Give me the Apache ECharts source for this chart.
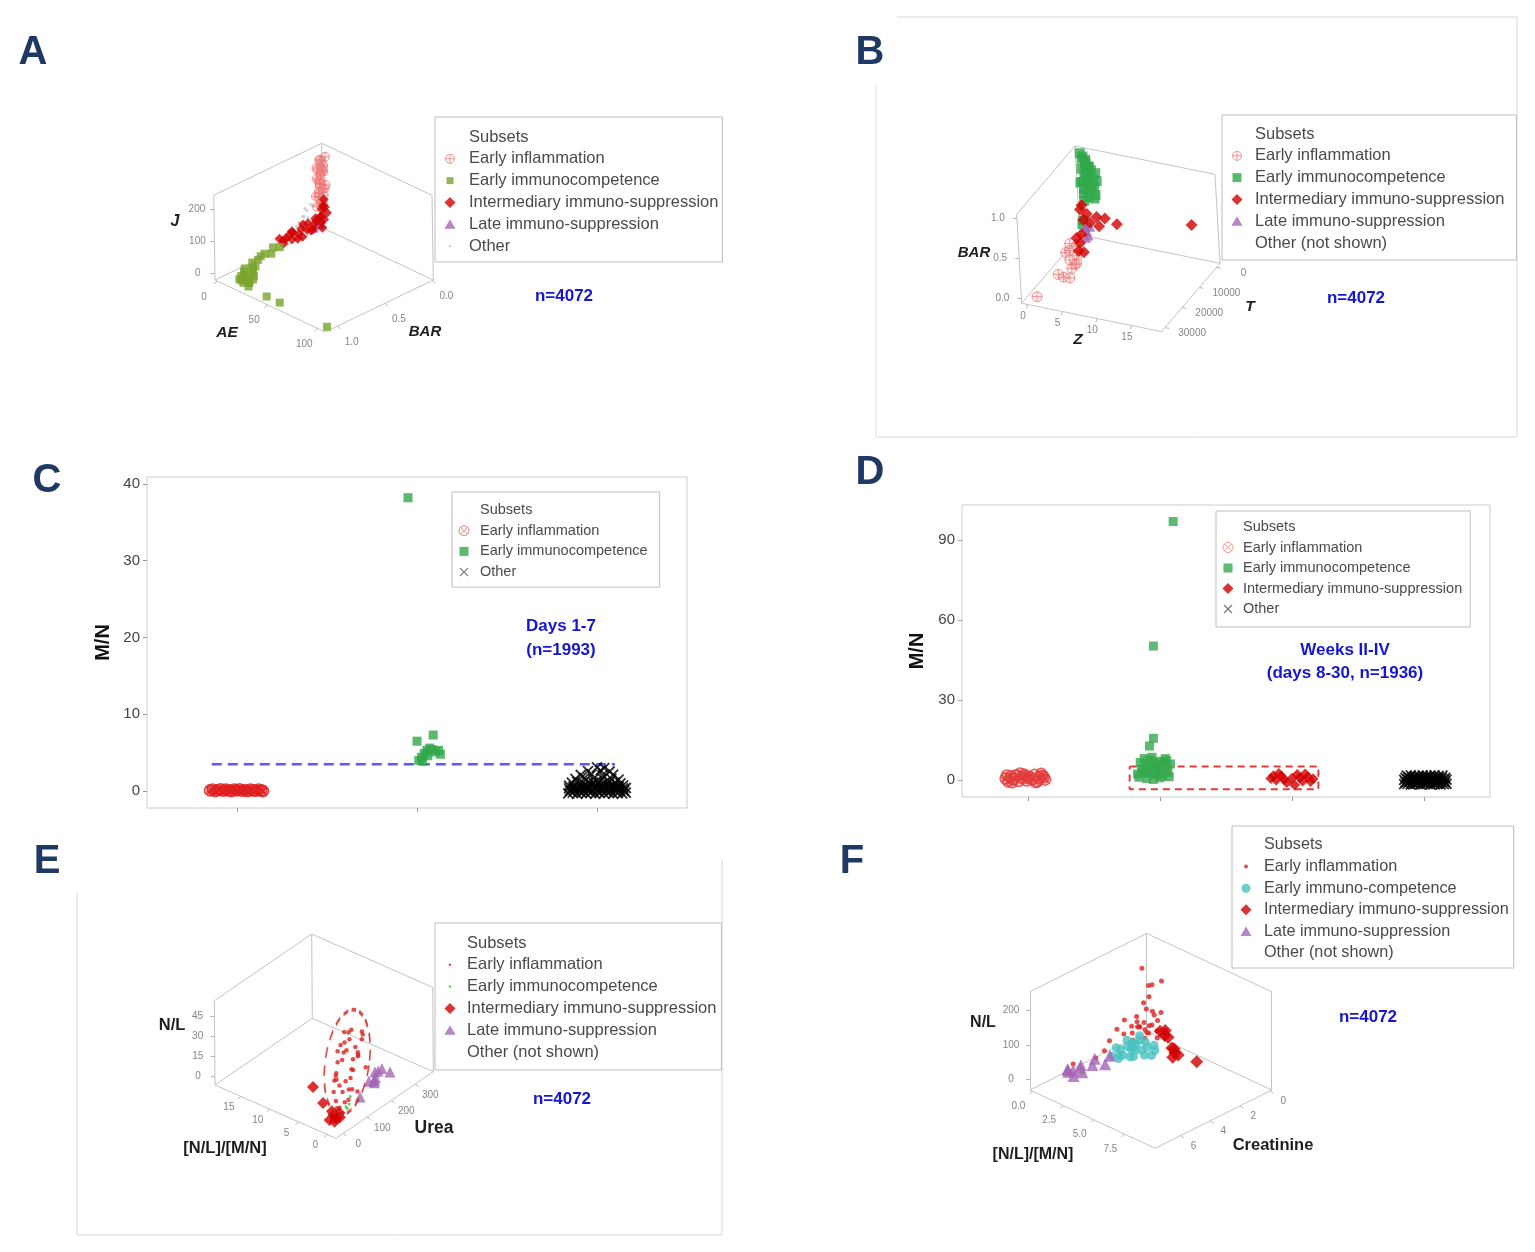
<!DOCTYPE html>
<html><head><meta charset="utf-8">
<script src="https://cdn.jsdelivr.net/npm/echarts/dist/echarts.min.js"></script>
<style>html,body{margin:0;padding:0;background:#fff}#c{width:1535px;height:1252px}</style>
</head><body><div id="c"></div>
<script>
// ===================== DATA =====================
// Panel A : [AE, BAR, J]
const A_INFLAM = [[3,0.06,210],[2,0.04,200],[4,0.07,195],[3,0.03,188],[2,0.08,180],[5,0.05,175],[3,0.06,168],[1,0.04,160],[4,0.09,152],[2,0.05,145],[3,0.07,138],[5,0.03,130],[2,0.06,124],[4,0.05,118],[3,0.08,110],[1,0.06,104],[4,0.04,98],[2,0.07,92],[3,0.05,86],[5,0.08,80],[3,0.04,72],[2,0.09,66],[4,0.06,60],[1,0.05,205],[5,0.06,185],[2,0.03,170],[4,0.08,140],[3,0.1,190],[1,0.08,150],[5,0.04,120],[2,0.1,100],[4,0.02,215]];
const A_IMMUNO = [[8,0.55,15],[6,0.6,18],[9,0.65,10],[7,0.7,14],[5,0.72,6],[8,0.78,8],[6,0.82,2],[12,0.95,-10],[20,1.0,-15],[6,0.9,-5],[10,1.0,-18],[15,0.97,-12],[8,0.93,-8],[18,0.98,-16],[14,0.9,-6],[10,0.86,-2],[16,1.02,-18],[22,1.03,-19],[12,0.88,-4],[9,0.97,-14],[17,0.92,-10],[13,1.01,-16],[11,0.84,0],[19,0.95,-13],[42,1.05,-18],[55,1.05,-18],[104,1.07,-18]];
const A_INTER = [[4,0.04,85],[5,0.06,70],[3,0.05,55],[6,0.03,45],[4,0.07,35],[5,0.05,25],[3,0.06,15],[6,0.08,5],[4,0.03,60],[5,0.09,40],[4,0.12,30],[5,0.16,25],[3,0.2,32],[6,0.24,22],[4,0.28,28],[5,0.32,18],[3,0.36,24],[6,0.4,15],[4,0.44,20],[5,0.48,12],[3,0.5,26],[7,0.3,10],[6,0.18,14],[4,0.38,34],[5,0.42,30],[3,0.46,16],[8,0.22,20],[6,0.34,8],[4,0.26,38],[5,0.14,42]];
const A_LATE = [[4,0.1,15],[3,0.08,10],[5,0.12,20],[2,0.06,5],[6,0.1,25],[4,0.14,8],[3,0.11,18],[5,0.07,12]];
const A_OTHER = [[3,0.25,60],[2,0.2,70],[4,0.3,50],[3,0.15,80],[5,0.22,55],[2,0.28,45],[4,0.18,90],[3,0.32,40],[5,0.26,65],[2,0.12,75],[4,0.24,85],[3,0.35,35],[6,0.2,48]];
const A_TICKS_AE = [0,50,100], A_TICKS_BAR = [0,0.5,1.0], A_TICKS_J = [0,100,200];

// Panel B : [Z, T, BAR]
const B_INFLAM = [[2.8,18200,0.2],[2.2,16000,0.25],[3.5,20000,0.15],[2.0,22000,0.1],[3.0,15000,0.3],[4.0,19000,0.2],[2.5,21000,0.05],[3.2,17000,0.12],[1.8,14000,0.28],[3.8,22500,0.1],[0.84,29900,0.0],[2.6,19500,0.32],[3.4,16500,0.22]];
const B_IMMUNO = [[0,-1000,1.0],[0.5,-500,0.98],[1.0,0,0.96],[0.2,-1200,0.93],[1.5,500,0.9],[0.8,-800,0.88],[1.8,200,0.85],[0.3,-300,0.83],[2.2,-600,0.8],[1.2,800,0.78],[0.5,-1000,0.75],[2.5,0,0.72],[1.0,-400,0.7],[1.6,600,0.68],[0.2,-800,0.65],[2.0,-200,0.62],[0.7,400,0.6],[1.4,-1200,0.58],[2.3,300,0.55],[0.4,-600,0.52],[1.1,0,0.5],[1.8,-900,0.47],[0.6,200,0.45],[0.9,-300,0.92],[1.3,-700,0.86],[2.0,100,0.74],[0.1,-100,0.66],[0.4,1200,0.18],[0.5,1000,0.22]];
const B_INTER = [[-0.17,0,0.32],[0.78,0,0.28],[0.23,0,0.2],[2.2,0,0.27],[3.4,0,0.27],[2.5,0,0.16],[5.1,0,0.23],[16.0,0,0.41],[0.1,0,0.38],[1.2,0,0.18],[2.27,10100,0.2],[2.0,8000,0.25],[2.5,12000,0.15],[1.5,9000,0.22],[3.0,11000,0.12]];
const B_LATE = [[1.5,3000,0.15],[1.2,2500,0.2],[1.8,3500,0.12],[1.0,2000,0.18],[2.0,3000,0.22],[1.6,4000,0.1]];
const B_TICKS_Z = [0,5,10,15], B_TICKS_T = [0,10000,20000,30000], B_TICKS_BAR = [0,0.5,1.0];

// Panel C : [x position (category index + jitter), M/N]
const C_INFLAM = [[-0.15,0.1],[-0.135,0.2],[-0.12,0.0],[-0.105,0.15],[-0.09,0.25],[-0.075,0.05],[-0.06,0.2],[-0.045,0.1],[-0.03,0.0],[-0.015,0.2],[0,0.1],[0.015,0.25],[0.03,0.05],[0.045,0.15],[0.06,0.0],[0.075,0.2],[0.09,0.1],[0.105,0.05],[0.12,0.2],[0.135,0.1],[0.145,0.0]];
const C_IMMUNO = [[0.95,38.2],[1.0,6.5],[1.09,7.3],[1.01,4.0],[1.025,4.4],[1.04,4.9],[1.055,5.3],[1.07,5.6],[1.085,5.4],[1.1,5.1],[1.12,5.3],[1.03,3.9],[1.06,4.6],[1.13,4.8]];
const C_OTHER = [[1.84,-0.3],[1.865,-0.2],[1.89,-0.35],[1.915,-0.25],[1.94,-0.3],[1.965,-0.2],[1.99,-0.35],[2.015,-0.25],[2.04,-0.3],[2.065,-0.2],[2.09,-0.35],[2.115,-0.25],[2.14,-0.3],[2.16,-0.2],
 [1.85,0.05],[1.875,0.1],[1.90,0.0],[1.925,0.05],[1.95,0.1],[1.975,0.0],[2.0,0.05],[2.025,0.1],[2.05,0.0],[2.075,0.05],[2.10,0.1],[2.125,0.0],[2.15,0.05],
 [1.845,0.35],[1.87,0.4],[1.895,0.3],[1.92,0.35],[1.945,0.4],[1.97,0.3],[1.995,0.35],[2.02,0.4],[2.045,0.3],[2.07,0.35],[2.095,0.4],[2.12,0.3],[2.145,0.35],[2.16,0.4],
 [1.845,0.7],[1.87,0.6],[1.895,0.75],[1.92,0.65],[1.945,0.7],[1.97,0.8],[1.995,0.6],[2.02,0.7],[2.045,0.75],[2.07,0.65],[2.095,0.7],[2.12,0.6],[2.145,0.75],
 [1.86,1.1],[1.89,1.2],[1.92,1.05],[1.95,1.15],[1.98,1.1],[2.01,1.2],[2.04,1.05],[2.07,1.15],[2.10,1.1],[2.13,1.0],
 [1.88,1.6],[1.93,1.7],[1.98,1.55],[2.03,1.65],[2.08,1.6],[2.12,1.5],
 [1.91,2.1],[1.97,2.2],[2.03,2.05],[2.09,2.15],
 [1.95,2.6],[2.02,2.7],[2.07,2.55],
 [2.0,3.1],[2.04,3.0]];
const C_CUTOFF = [[-0.14,3.5],[2.1,3.5]];
const C_XTICKS = [0,1,2], C_YTICKS = [0,10,20,30,40];

// Panel D : [x position (category index + jitter), M/N]
const D_INFLAM = [[-0.17,0.5],[-0.15,-0.6],[-0.13,1.4],[-0.11,0.2],[-0.09,1.8],[-0.07,-0.4],[-0.05,0.9],[-0.03,2.0],[-0.01,-0.2],[0.01,1.2],[0.03,0.3],[0.05,1.9],[0.07,-0.5],[0.09,0.8],[0.11,1.6],[0.13,0.1],[-0.16,1.7],[-0.12,-0.9],[-0.06,2.4],[0.0,0.6],[0.06,-0.9],[0.1,2.3],[0.12,1.0],[-0.02,1.5]];
const D_IMMUNO = [[0.84,1],[0.87,3],[0.90,0.5],[0.93,5],[0.96,2],[0.99,7],[1.02,1.5],[1.05,4],[1.08,6],[0.85,6.5],[0.88,8],[0.91,2.5],[0.94,8.5],[0.97,4.5],[1.0,0.8],[1.03,6.8],[1.06,2.8],[0.86,4],[0.89,5.8],[0.92,7.5],[0.95,0.2],[0.98,3.3],[1.01,5.2],[1.04,8],[1.07,1.2],[0.83,2.2],[0.9,3.8],[1.0,2.6],[0.96,6.2],[1.05,7.2],[0.92,12.7],[0.95,15.6],[0.95,50.2],[1.1,96.9]];
const D_INTER = [[1.84,0.5],[1.88,0.0],[1.92,1.5],[1.96,-1.0],[2.0,0.6],[2.04,2.0],[2.08,-0.4],[2.12,1.2],[2.16,0.4],[1.9,2.4],[2.02,-1.9],[2.06,0.8],[1.94,0.2],[2.1,2.2],[1.86,1.6],[2.14,-0.6]];
const D_OTHER = [[2.85,-1.6],[2.875,-1.5],[2.90,-1.7],[2.925,-1.6],[2.95,-1.5],[2.975,-1.7],[3.0,-1.6],[3.025,-1.5],[3.05,-1.7],[3.075,-1.6],[3.10,-1.5],[3.125,-1.7],[3.15,-1.6],[3.17,-1.5],
 [2.86,-0.8],[2.885,-0.7],[2.91,-0.9],[2.935,-0.8],[2.96,-0.7],[2.985,-0.9],[3.01,-0.8],[3.035,-0.7],[3.06,-0.9],[3.085,-0.8],[3.11,-0.7],[3.135,-0.9],[3.16,-0.8],
 [2.85,0.0],[2.875,0.1],[2.90,-0.1],[2.925,0.0],[2.95,0.1],[2.975,-0.1],[3.0,0.0],[3.025,0.1],[3.05,-0.1],[3.075,0.0],[3.10,0.1],[3.125,-0.1],[3.15,0.0],[3.17,0.1],
 [2.86,0.8],[2.885,0.9],[2.91,0.7],[2.935,0.8],[2.96,0.9],[2.985,0.7],[3.01,0.8],[3.035,0.9],[3.06,0.7],[3.085,0.8],[3.11,0.9],[3.135,0.7],[3.16,0.8],
 [2.87,1.6],[2.90,1.7],[2.93,1.5],[2.96,1.6],[2.99,1.7],[3.02,1.5],[3.05,1.6],[3.08,1.7],[3.11,1.5],[3.14,1.6]];
const D_BOX = [[0.77,5.0],[2.2,5.0],[2.2,-3.5],[0.77,-3.5],[0.77,5.0]];
const D_XTICKS = [0,1,2,3], D_YTICKS = [0,30,60,90];

// Panel E : [[N/L]/[M/N], Urea, N/L]
const E_INFLAM = [[0.3,10,2],[0.6,25,5],[0.8,40,3],[1.2,35,8],[0.5,55,6],[1.5,70,10],[2.0,45,12],[0.9,80,4],[1.8,90,15],[2.5,60,18],[1.1,100,9],[0.4,70,14],[3.0,80,20],[1.6,110,22],[2.2,120,13],[0.7,95,25],[2.8,100,28],[1.3,130,30],[3.5,90,16],[1.9,60,33],[2.6,140,24],[0.9,120,35],[3.2,120,38],[1.4,85,40],[2.1,150,27],[4.0,110,31],[1.7,160,42],[2.9,130,45],[1.0,140,48],[3.6,150,36],[2.4,100,50],[2.0,120,50],[3.0,160,30],[2.0,75,44],[0.8,150,20],[4.2,140,26],[2.7,180,34],[1.2,50,18],[3.8,100,11],[0.6,110,7]];
const E_IMMUNO = [[0.3,40,0],[0.5,60,2],[0.8,80,1],[0.2,100,3],[0.6,110,0],[0.4,30,4],[1.0,90,5],[0.7,70,-1]];
const E_INTER = [[7.4,88,0],[3.9,46,0],[0.2,5,-2],[0.5,15,-1],[1.0,20,0],[0.3,30,-2],[1.5,25,1],[0.8,40,-1],[0.1,12,0],[1.2,8,-3]];
const E_LATE = [[2.0,215,0],[1.5,200,2],[2.5,230,-1],[1.0,190,3],[3.0,240,1],[2.2,250,4],[1.8,225,6],[2.8,210,-2],[0.9,128,0],[1.2,260,2]];
const E_CLUSTER_CENTER = [1.5,90,30];
const E_TICKS_R = [0,5,10,15], E_TICKS_UREA = [0,100,200,300], E_TICKS_NL = [0,15,30,45];

// Panel F : [[N/L]/[M/N], Creatinine, N/L]
const F_INFLAM = [[0.5,0.8,184],[1.5,0.3,153],[0.8,0.6,135],[0.6,0.2,125],[0.4,0.6,79],[0.5,0.5,60],[1.0,0.5,62],[0.3,1.8,53],[0.3,2.3,37],[0.5,3.3,0],[1.0,5.8,24],[0.6,1.2,40],[0.8,0.9,35],[1.2,0.7,30],[0.4,1.4,28],[1.0,1.0,20],[1.4,1.2,22],[0.7,1.6,18],[1.8,0.8,25],[0.9,0.3,45],[1.3,0.4,38],[0.2,0.9,42],[1.6,1.5,15],[0.5,2.0,20],[2.0,1.0,12],[1.1,1.9,10],[0.3,2.8,15],[0.6,0.4,95],[1.7,0.5,70],[0.9,4.2,5],[2.2,0.6,30],[1.5,2.2,8],[0.4,1.0,18],[1.1,0.8,28],[0.7,1.1,25],[1.3,1.0,15],[0.9,1.3,32]];
const F_IMMUNO = [[1.5,2.0,8],[1.8,2.6,12],[2.2,2.2,6],[1.2,2.8,4],[2.5,3.0,10],[1.0,2.2,15],[2.0,1.8,18],[1.6,3.2,2],[2.8,2.5,8],[1.3,1.6,20],[2.4,2.0,14],[1.9,3.5,5],[1.1,3.0,12],[2.6,1.7,16],[1.7,2.4,22],[2.1,2.9,0],[1.4,2.5,10],[3.0,2.2,4],[2.3,2.7,18],[1.5,3.6,8],[2.9,1.9,10],[1.8,2.0,25],[1.2,2.0,6],[2.0,3.3,12],[1.68,2.36,10]];
const F_INTER = [[1.5,0.4,10],[2.0,0.5,8],[2.4,0.6,12],[3.2,1.0,3],[3.5,1.1,8],[3.8,1.3,5],[4.2,1.4,8],[4.0,1.6,2],[5.47,1.2,5],[1.8,0.3,15]];
const F_LATE = [[1.0,5.8,5],[1.2,5.5,10],[0.8,6.0,8],[1.5,5.6,4],[1.1,6.2,12],[0.9,5.2,6],[1.4,6.1,2],[1.6,5.0,14],[1.3,4.6,18],[1.8,4.0,22],[0.8,6.0,10],[1.9,4.4,8]];
const F_TICKS_R = [0,2.5,5,7.5], F_TICKS_CREAT = [0,2,4,6], F_TICKS_NL = [0,100,200];

// ===================== LAYOUT (oblique projection of each 3D box) =====================
// o: screen position of the corner where all three variables are at their minimum
// v: screen displacement from min to max of each variable; r: variable ranges
// k: which corner is the far (back) corner (0=min,1=max) for the two floor variables
const PA = {o:[323,228], v:[[110.3,52],[-108,52],[-1.3,-84.7]], r:[[-2,108],[-0.01,1.13],[-20,244]], k:[0,0]};
const PB = {o:[1080,235], v:[[140,28.3],[-58.3,68.3],[-5,-89]], r:[[-0.9,19.3],[-2000,32000],[-0.06,1.05]], k:[0,0]};
const PE = {o:[336,1138.4], v:[[-121,-53.4],[97.3,-66.7],[-0.6,-84.3]], r:[[-1.5,19.5],[-30,375],[-7,57]], k:[1,1]};
const PF = {o:[1146.7,1031.7], v:[[125,58.3],[-116.7,58.3],[0,-98.3]], r:[[-0.2,10],[-0.1,7.7],[-30,254]], k:[0,0]};

const FONT = '"Liberation Sans", Arial, Helvetica, sans-serif';
function proj(P, p){
  let x = P.o[0], y = P.o[1];
  for (let i = 0; i < 3; i++){
    const f = (p[i] - P.r[i][0]) / (P.r[i][1] - P.r[i][0]);
    x += f * P.v[i][0]; y += f * P.v[i][1];
  }
  return [x, y];
}
function boxEdges(P){
  const k = P.k;
  const c = (a,b,z) => proj(P, [P.r[0][a], P.r[1][b], P.r[2][z]]);
  const K=c(k[0],k[1],0), L=c(k[0],1-k[1],0), R=c(1-k[0],k[1],0), F=c(1-k[0],1-k[1],0);
  const Kt=c(k[0],k[1],1), Lt=c(k[0],1-k[1],1), Rt=c(1-k[0],k[1],1);
  return [[K,L],[K,R],[K,Kt],[L,Lt],[R,Rt],[Kt,Lt],[Kt,Rt],[L,F],[F,R]];
}
function tickPts(P, dim, vals){
  const k = P.k; let base;
  if (dim === 2) base = [P.r[0][k[0]], P.r[1][1-k[1]], 0];
  else if (dim === 0) base = [0, P.r[1][1-k[1]], P.r[2][0]];
  else base = [P.r[0][1-k[0]], 0, P.r[2][0]];
  return vals.map(v => { const p = base.slice(); p[dim] = v; return proj(P, p); });
}
const OV = {xAxisIndex:2, yAxisIndex:2, silent:true, animation:false};
function boxSeries(P){
  return Object.assign({type:'lines', coordinateSystem:'cartesian2d', polyline:false,
    data: boxEdges(P).map(c => ({coords:c})), lineStyle:{color:'#c4c4c4', width:1, opacity:1}, z:1}, OV);
}
function tickSeries(P, dim, vals, off, dec){
  const pts = tickPts(P, dim, vals);
  const len = Math.hypot(off[0], off[1]), ux = off[0]/len*4, uy = off[1]/len*4;
  return [
    Object.assign({type:'lines', coordinateSystem:'cartesian2d', polyline:false,
      data: pts.map(p => ({coords:[p, [p[0]+ux, p[1]+uy]]})), lineStyle:{color:'#b4b4b4', width:1, opacity:1}, z:1}, OV),
    Object.assign({type:'scatter', data: pts.map((p,i) => ({value:p, name: dec ? vals[i].toFixed(dec) : String(vals[i])})),
      symbolSize:1, itemStyle:{color:'rgba(0,0,0,0)'},
      label:{show:true, position:'inside', formatter:'{b}', offset:off, fontSize:10, color:'#666', fontFamily:FONT}, z:2}, OV)
  ];
}
function s3(P, name, arr, symbol, size, style, z){
  return Object.assign({type:'scatter', name, data: arr.map(p => proj(P, p)), symbol, symbolSize:size, itemStyle:style, z: z || 3}, OV);
}
function s2(gi, name, arr, symbol, size, style){
  return {type:'scatter', name, xAxisIndex:gi, yAxisIndex:gi, data:arr, symbol, symbolSize:size, itemStyle:style, silent:true, animation:false, z:3};
}

// symbols
const SYM_CROSSCIRC = 'path://M0,-10A10,10 0 1,1 0,10A10,10 0 1,1 0,-10ZM-10,0L10,0M0,-10L0,10';
const SYM_XCIRC = 'path://M0,-10A10,10 0 1,1 0,10A10,10 0 1,1 0,-10ZM-7,-7L7,7M-7,7L7,-7';
const SYM_X = 'path://M-10,-10L10,10M-10,10L10,-10';
const IC = p => 'path://M-6,-6M6,6' + p;
const L_CROSSCIRC = IC('M0,-4.5A4.5,4.5 0 1,1 0,4.5A4.5,4.5 0 1,1 0,-4.5ZM-4.5,0L4.5,0M0,-4.5L0,4.5');
const L_XCIRC = IC('M0,-5A5,5 0 1,1 0,5A5,5 0 1,1 0,-5ZM-3.5,-3.5L3.5,3.5M-3.5,3.5L3.5,-3.5');
const L_SQ7 = IC('M-3.5,-3.5L3.5,-3.5L3.5,3.5L-3.5,3.5Z');
const L_SQ9 = IC('M-4.5,-4.5L4.5,-4.5L4.5,4.5L-4.5,4.5Z');
const L_DIA = IC('M0,-5.5L5.5,0L0,5.5L-5.5,0Z');
const L_TRI = IC('M0,-5L5.5,4.5L-5.5,4.5Z');
const L_DOT = IC('M-1.3,0A1.3,1.3 0 1,1 1.3,0A1.3,1.3 0 1,1 -1.3,0Z');
const L_DOT2 = IC('M-2,0A2,2 0 1,1 2,0A2,2 0 1,1 -2,0Z');
const L_CIRC = IC('M-4.5,0A4.5,4.5 0 1,1 4.5,0A4.5,4.5 0 1,1 -4.5,0Z');
const L_X = IC('M-4,-4L4,4M-4,4L4,-4');

const COL = {pink:'#ee7a7a', olive:'#79a52b', green:'#2fa84a', red:'#d20000', purple:'#a565b5', grey:'#c4c4c4', dot:'#dd2020', dotG:'#3fbf3f', cyan:'#48c2c2'};
const stroke = (c,w) => ({color:'rgba(0,0,0,0)', borderColor:c, borderWidth:w||1});
const fill = c => ({color:c, borderWidth:0});

const NAMES = {sub:'Subsets', ei:'Early inflammation', ic:'Early immunocompetence', ic2:'Early immuno-competence', im:'Intermediary immuno-suppression', late:'Late immuno-suppression', oth:'Other', ons:'Other (not shown)'};

function legend(left, top, itemWidth, fontSize, lineH, gap, padding, items){
  return {left, top, orient:'vertical', itemWidth, itemHeight:12, itemGap:gap, padding,
    borderColor:'#bdbdbd', borderWidth:1, backgroundColor:'#fff', selectedMode:false, z:6,
    textStyle:{fontFamily:FONT, fontSize, lineHeight:lineH, color:'#4a4a4a'},
    data: items.map(it => ({name:it[0], icon:it[1], itemStyle:it[2]}))};
}

// ===================== SERIES =====================
const series = [];
// --- C ---
series.push({type:'line', xAxisIndex:0, yAxisIndex:0, data:C_CUTOFF, symbol:'none', lineStyle:{color:'#5b5bf0', width:2.5, type:[10,6]}, silent:true, animation:false, z:2});
series.push(s2(0, NAMES.ei, C_INFLAM, SYM_XCIRC, 11, {color:'rgba(230,40,40,0.3)', borderColor:'#dd1c1c', borderWidth:1.6}));
series.push(s2(0, NAMES.ic, C_IMMUNO, 'rect', 9, fill(COL.green)));
series.push(s2(0, NAMES.oth, C_OTHER, SYM_X, 10, stroke('#000',1.9)));
// --- D ---
series.push({type:'line', xAxisIndex:1, yAxisIndex:1, data:D_BOX, symbol:'none', lineStyle:{color:'#e03c3c', width:2, type:[7,5]}, silent:true, animation:false, z:2});
series.push(s2(1, NAMES.ei, D_INFLAM, SYM_XCIRC, 11, {color:'rgba(230,60,60,0.25)', borderColor:'#e23c3c', borderWidth:1.5}));
series.push(s2(1, NAMES.ic, D_IMMUNO, 'rect', 9, fill('#35a94c')));
series.push(s2(1, NAMES.im, D_INTER, 'diamond', 11, fill(COL.red)));
series.push(s2(1, NAMES.oth, D_OTHER, SYM_X, 10, stroke('#000',1.9)));
// --- A ---
series.push(boxSeries(PA));
series.push(...tickSeries(PA, 2, A_TICKS_J, [-17,0], 0));
series.push(...tickSeries(PA, 0, A_TICKS_AE, [-13,16], 0));
series.push(...tickSeries(PA, 1, A_TICKS_BAR, [14,16], 1));
series.push(s3(PA, NAMES.oth, A_OTHER, 'circle', 3, fill(COL.grey)));
series.push(s3(PA, NAMES.ei, A_INFLAM, SYM_CROSSCIRC, 9, {color:'rgba(240,120,120,0.15)', borderColor:COL.pink, borderWidth:1}));
series.push(s3(PA, NAMES.late, A_LATE, 'triangle', 8, fill(COL.purple)));
series.push(s3(PA, NAMES.im, A_INTER, 'diamond', 10, fill(COL.red)));
series.push(s3(PA, NAMES.ic, A_IMMUNO, 'rect', 8, fill(COL.olive)));
// --- B ---
series.push(boxSeries(PB));
series.push(...tickSeries(PB, 2, B_TICKS_BAR, [-19,0], 1));
series.push(...tickSeries(PB, 0, B_TICKS_Z, [-5,12], 0));
series.push(...tickSeries(PB, 1, B_TICKS_T, [27,6], 0));
series.push(s3(PB, NAMES.ei, B_INFLAM, SYM_CROSSCIRC, 10, {color:'rgba(240,120,120,0.15)', borderColor:COL.pink, borderWidth:1}));
series.push(s3(PB, NAMES.ic, B_IMMUNO, 'rect', 10, fill(COL.green)));
series.push(s3(PB, NAMES.late, B_LATE, 'triangle', 10, fill(COL.purple)));
series.push(s3(PB, NAMES.im, B_INTER, 'diamond', 12, fill(COL.red)));
// --- E ---
series.push(boxSeries(PE));
series.push(...tickSeries(PE, 2, E_TICKS_NL, [-17,0], 0));
series.push(...tickSeries(PE, 0, E_TICKS_R, [-12,11], 0));
series.push(...tickSeries(PE, 1, E_TICKS_UREA, [15,11], 0));
series.push(s3(PE, NAMES.ei, E_INFLAM, 'circle', 4.5, fill(COL.dot)));
series.push(s3(PE, NAMES.ic, E_IMMUNO, 'circle', 3, fill(COL.dotG)));
series.push(s3(PE, NAMES.im, E_INTER, 'diamond', 12, fill(COL.red)));
series.push(s3(PE, NAMES.late, E_LATE, 'triangle', 11, fill(COL.purple)));
series.push(Object.assign({type:'scatter', data:[proj(PE, E_CLUSTER_CENTER)], symbol:'circle', symbolSize:[44,106], symbolRotate:-8,
  itemStyle:{color:'rgba(0,0,0,0)', borderColor:'#d42020', borderWidth:2.5, borderType:[7,5]}, z:4}, OV));
// --- F ---
series.push(boxSeries(PF));
series.push(...tickSeries(PF, 2, F_TICKS_NL, [-19,0], 0));
series.push(...tickSeries(PF, 0, F_TICKS_R, [-14,15], 1));
series.push(...tickSeries(PF, 1, F_TICKS_CREAT, [13,11], 0));
series.push(s3(PF, NAMES.ei, F_INFLAM, 'circle', 5, fill(COL.dot)));
series.push(s3(PF, NAMES.im, F_INTER, 'diamond', 13, fill(COL.red)));
series.push(s3(PF, NAMES.ic2, F_IMMUNO, 'circle', 9, fill(COL.cyan)));
series.push(s3(PF, NAMES.late, F_LATE, 'triangle', 12, fill(COL.purple)));
// legend-only entries
series.push(Object.assign({type:'scatter', name:NAMES.sub, data:[]}, OV));
series.push(Object.assign({type:'scatter', name:NAMES.ons, data:[]}, OV));

// ===================== LEGENDS =====================
const legends = [
  legend(435, 117, 28, 16.5, 18, 3.8, [11,4,7,1], [
    [NAMES.sub,'none'], [NAMES.ei,L_CROSSCIRC,stroke(COL.pink,1)], [NAMES.ic,L_SQ7,fill(COL.olive)],
    [NAMES.im,L_DIA,fill(COL.red)], [NAMES.late,L_TRI,fill(COL.purple)], [NAMES.oth,L_DOT,fill(COL.grey)]]),
  legend(1222, 115, 26, 16.5, 18, 3.8, [10,12,8,2], [
    [NAMES.sub,'none'], [NAMES.ei,L_CROSSCIRC,stroke(COL.pink,1)], [NAMES.ic,L_SQ9,fill(COL.green)],
    [NAMES.im,L_DIA,fill(COL.red)], [NAMES.late,L_TRI,fill(COL.purple)], [NAMES.ons,'none']]),
  legend(452, 492, 22, 14.5, 17, 3.7, [9.5,12,6.5,1], [
    [NAMES.sub,'none'], [NAMES.ei,L_XCIRC,stroke('#e06060',1)], [NAMES.ic,L_SQ9,fill(COL.green)], [NAMES.oth,L_X,stroke('#555',1.2)]]),
  legend(1216, 511, 20, 14.5, 17, 3.5, [7.5,8,9.5,2], [
    [NAMES.sub,'none'], [NAMES.ei,L_XCIRC,stroke('#f08080',1)], [NAMES.ic,L_SQ9,fill('#35a94c')],
    [NAMES.im,L_DIA,fill(COL.red)], [NAMES.oth,L_X,stroke('#555',1.2)]]),
  legend(435, 923, 24, 16.5, 18, 3.8, [11,5,9,3], [
    [NAMES.sub,'none'], [NAMES.ei,L_DOT,fill(COL.dot)], [NAMES.ic,L_DOT,fill(COL.dotG)],
    [NAMES.im,L_DIA,fill(COL.red)], [NAMES.late,L_TRI,fill(COL.purple)], [NAMES.ons,'none']]),
  legend(1232, 826, 26, 16.2, 18, 3.6, [10,5,6,1], [
    [NAMES.sub,'none'], [NAMES.ei,L_DOT2,fill(COL.dot)], [NAMES.ic2,L_CIRC,fill(COL.cyan)],
    [NAMES.im,L_DIA,fill(COL.red)], [NAMES.late,L_TRI,fill(COL.purple)], [NAMES.ons,'none']])
];

// ===================== TEXT =====================
const LETTERS = [['A',33,53],['B',870,53],['C',47,481],['D',870,473],['E',47,862],['F',852,862]];
const BLUE = [['n=4072',564,296],['n=4072',1356,298],['n=4072',562,1099],['n=4072',1368,1017],['Days 1-7',561,626],['(n=1993)',561,650],['Weeks II-IV',1345,650],['(days 8-30, n=1936)',1345,673]];
const TITLES = [['J',175,222,'italic bold 16px'],['AE',227,333,'italic bold 15.5px'],['BAR',425,332,'italic bold 15px'],
  ['BAR',974,253,'italic bold 15px'],['Z',1078,340,'italic bold 15.5px'],['T',1250,307,'italic bold 15.5px'],
  ['N/L',172,1025,'bold 16.5px'],['[N/L]/[M/N]',225,1148,'bold 16.5px'],['Urea',434,1128,'bold 17.5px'],
  ['N/L',983,1023,'bold 16px'],['[N/L]/[M/N]',1033,1155,'bold 16px'],['Creatinine',1273,1145,'bold 16.5px']];
const txt = (t,x,y,font,color) => ({type:'text', x, y, silent:true, z:10,
  style:{text:t, font: font + ' ' + FONT, fill:color, align:'center', verticalAlign:'middle', textAlign:'center', textVerticalAlign:'middle'}});
const graphics = [];
graphics.push({type:'polyline', silent:true, z:0, shape:{points:[[897,17],[1517,17],[1517,437],[876,437],[876,85]]}, style:{stroke:'#d9d9d9', fill:null, lineWidth:1}});
graphics.push({type:'polyline', silent:true, z:0, shape:{points:[[77,893],[77,1235],[722,1235],[722,860]]}, style:{stroke:'#d9d9d9', fill:null, lineWidth:1}});
LETTERS.forEach(l => graphics.push(txt(l[0], l[1], l[2], 'bold 40px', '#1f3864')));
BLUE.forEach(b => graphics.push(txt(b[0], b[1], b[2], 'bold 17px', '#1515d5')));
TITLES.forEach(t => graphics.push(txt(t[0], t[1], t[2], t[3], '#1e1e1e')));

// ===================== OPTION =====================
const axisCommonX = (ticks) => ({type:'value', axisLine:{show:false, onZero:false}, splitLine:{show:false}, axisLabel:{show:false},
  axisTick:{show:true, customValues:ticks, length:4, lineStyle:{color:'#9a9a9a'}}});
const axisCommonY = (ticks, gap) => ({type:'value', axisLine:{show:false, onZero:false}, splitLine:{show:false},
  axisTick:{show:true, customValues:ticks, length:4, lineStyle:{color:'#9a9a9a'}},
  axisLabel:{customValues:ticks, fontSize:15, color:'#444', fontFamily:FONT, margin:7},
  name:'M/N', nameLocation:'middle', nameGap:gap, nameTextStyle:{fontSize:20, fontWeight:'bold', color:'#111', fontFamily:FONT}});

const option = {
  animation:false,
  backgroundColor:'#fff',
  grid:[
    {left:147, top:477, width:540, height:331, show:true, borderColor:'#cccccc', borderWidth:1, backgroundColor:'rgba(0,0,0,0)'},
    {left:962, top:505, width:528, height:292, show:true, borderColor:'#cccccc', borderWidth:1, backgroundColor:'rgba(0,0,0,0)'},
    {left:0, top:0, width:1535, height:1252, show:false}
  ],
  xAxis:[
    Object.assign({gridIndex:0, min:-0.5, max:2.5, position:'bottom'}, axisCommonX(C_XTICKS)),
    Object.assign({gridIndex:1, min:-0.5, max:3.5, position:'bottom'}, axisCommonX(D_XTICKS)),
    {gridIndex:2, type:'value', min:0, max:1535, show:false}
  ],
  yAxis:[
    Object.assign({gridIndex:0, min:-2.2, max:40.9, position:'left'}, axisCommonY(C_YTICKS, 34)),
    Object.assign({gridIndex:1, min:-6.4, max:103.1, position:'left'}, axisCommonY(D_YTICKS, 35)),
    {gridIndex:2, type:'value', min:0, max:1252, inverse:true, show:false}
  ],
  legend: legends,
  graphic:{elements:graphics},
  series
};
const chart = echarts.init(document.getElementById('c'), null, {renderer:'canvas'});
chart.setOption(option);
</script></body></html>
